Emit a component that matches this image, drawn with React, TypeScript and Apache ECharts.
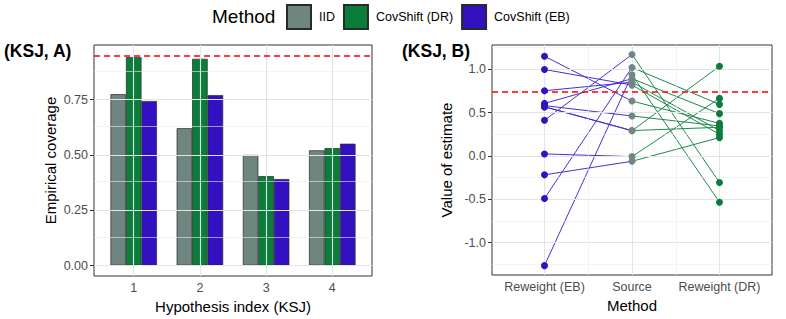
import React, { useEffect, useRef } from "react";
import * as echarts from "echarts";

// ---- Panel A: empirical coverage per hypothesis ----
const hypotheses = [1, 2, 3, 4];
const iidCoverage = [0.775, 0.621, 0.5, 0.521];
const drCoverage = [0.943, 0.935, 0.404, 0.531];
const ebCoverage = [0.744, 0.771, 0.391, 0.551];
const nominalCoverage = 0.95;
const coverageTicks = [0, 0.25, 0.5, 0.75];
const coverageMinor = [0.125, 0.375, 0.625, 0.875];

// ---- Panel B: estimates by method ----
const methods = ["Reweight (EB)", "Source", "Reweight (DR)"];
const ebEstimates = [0.41, -0.49, -1.264, 0.605, 0.751, 0.996, 1.149, 0.58, 0.565, 0.567, 0.023, -0.218];
const sourceEstimates = [1.169, 1.019, 0.935, 0.89, 0.85, 0.816, 0.632, 0.46, 0.29, 0.292, -0.008, -0.062];
const drEstimates = [-0.307, 0.594, -0.533, 0.487, 0.291, 0.249, 0.375, 0.345, 1.034, 0.33, 0.663, 0.211];
const targetEstimate = 0.744;
const estimateTicks = [-1, -0.5, 0, 0.5, 1];
const estimateMinor = [-1.25, -0.75, -0.25, 0.25, 0.75, 1.25];

const COLORS = { iid: "#6f8580", dr: "#0b7d3b", eb: "#3310c0" };
const LINE_BLUE = "#4a2fd2";
const LINE_GREEN = "#1f8a4c";
const GRID_MAJOR = "#dfe7e5";
const GRID_MINOR = "#e8eeec";
const FONT = "Liberation Sans, Arial, Helvetica, sans-serif";

export default function App() {
  const ref = useRef<HTMLDivElement>(null);
  useEffect(() => {
    if (!ref.current) return;
    const chart = echarts.init(ref.current, null, { renderer: "svg" });

    const gridLines = (xi: number, majorsY: number[], minorsY: number[], xs: { v: number; minor?: boolean }[]) => ({
      type: "line",
      xAxisIndex: xi,
      yAxisIndex: xi,
      data: [],
      z: 1,
      silent: true,
      markLine: {
        silent: true,
        symbol: ["none", "none"],
        label: { show: false },
        emphasis: { disabled: true },
        data: [
          ...minorsY.map((v) => ({ yAxis: v, lineStyle: { color: GRID_MINOR, width: 0.6, type: "solid" } })),
          ...majorsY.map((v) => ({ yAxis: v, lineStyle: { color: GRID_MAJOR, width: 1.1, type: "solid" } })),
          ...xs.map((o) => ({
            xAxis: o.v,
            lineStyle: { color: o.minor ? GRID_MINOR : GRID_MAJOR, width: o.minor ? 0.6 : 1.1, type: "solid" },
          })),
        ],
      },
    });

    const refLine = (xi: number, v: number) => ({
      type: "line",
      xAxisIndex: xi,
      yAxisIndex: xi,
      data: [],
      z: 10,
      silent: true,
      markLine: {
        silent: true,
        symbol: ["none", "none"],
        label: { show: false },
        data: [{ yAxis: v }],
        lineStyle: { color: "#ff0000", width: 1.5, type: [6, 4] },
      },
    });

    const barSeries = (name: string, vals: number[], color: string) => ({
      type: "bar",
      name,
      xAxisIndex: 0,
      yAxisIndex: 0,
      data: hypotheses.map((h, i) => [h, vals[i]]),
      barWidth: 15.5,
      barGap: "0%",
      z: 3,
      itemStyle: { color, borderColor: "#2a2a2a", borderWidth: 0.7 },
    });

    const segs: any[] = [];
    ebEstimates.forEach((v, i) => {
      segs.push({
        type: "line",
        xAxisIndex: 1,
        yAxisIndex: 1,
        data: [[1, v], [2, sourceEstimates[i]]],
        showSymbol: false,
        z: 3,
        silent: true,
        lineStyle: { color: LINE_BLUE, width: 1 },
      });
      segs.push({
        type: "line",
        xAxisIndex: 1,
        yAxisIndex: 1,
        data: [[2, sourceEstimates[i]], [3, drEstimates[i]]],
        showSymbol: false,
        z: 3,
        silent: true,
        lineStyle: { color: LINE_GREEN, width: 1 },
      });
    });

    const pts = (name: string, x: number, vals: number[], color: string) => ({
      type: "scatter",
      name,
      xAxisIndex: 1,
      yAxisIndex: 1,
      data: vals.map((v) => [x, v]),
      symbolSize: 7,
      z: 5,
      itemStyle: { color, opacity: 1 },
    });

    const axisLabelStyle = { color: "#4d4d4d", fontSize: 12.5, fontFamily: FONT };
    const nameStyle = { color: "#000", fontSize: 15, fontFamily: FONT };

    chart.setOption({
      animation: false,
      textStyle: { fontFamily: FONT },
      title: [
        { text: "(KSJ, A)", left: 4, top: 42, padding: 0, textStyle: { fontSize: 17.5, fontWeight: "bold", color: "#000", fontFamily: FONT } },
        { text: "(KSJ, B)", left: 402, top: 42, padding: 0, textStyle: { fontSize: 17.5, fontWeight: "bold", color: "#000", fontFamily: FONT } },
      ],
      legend: {
        data: ["IID", "CovShift (DR)", "CovShift (EB)"],
        left: 286,
        top: 4,
        padding: 0,
        itemWidth: 24,
        itemHeight: 24,
        itemGap: 8,
        selectedMode: false,
        icon: "rect",
        textStyle: { fontSize: 12.5, color: "#000", fontFamily: FONT, padding: [0, 0, 0, 3] },
      },
      graphic: [
        { type: "text", left: 212, top: 7, style: { text: "Method", fontSize: 19, fill: "#000", fontFamily: FONT } },
      ],
      grid: [
        { left: 94, top: 45, width: 278, height: 231, show: true, borderColor: "#333", borderWidth: 1, backgroundColor: "#fff" },
        { left: 492, top: 45, width: 280, height: 230, show: true, borderColor: "#333", borderWidth: 1, backgroundColor: "#fff" },
      ],
      xAxis: [
        {
          type: "value",
          gridIndex: 0,
          min: 0.4,
          max: 4.6,
          splitLine: { show: false },
          axisLine: { show: false },
          axisTick: { show: true, length: 4, lineStyle: { color: "#333" }, customValues: hypotheses },
          axisLabel: { ...axisLabelStyle, customValues: hypotheses, formatter: (v: number) => String(v), margin: 5 },
          name: "Hypothesis index (KSJ)",
          nameLocation: "middle",
          nameGap: 22,
          nameTextStyle: nameStyle,
        },
        {
          type: "value",
          gridIndex: 1,
          min: 0.4,
          max: 3.6,
          splitLine: { show: false },
          axisLine: { show: false },
          axisTick: { show: true, length: 4, lineStyle: { color: "#333" }, customValues: [1, 2, 3] },
          axisLabel: { ...axisLabelStyle, customValues: [1, 2, 3], formatter: (v: number) => methods[Math.round(v) - 1] ?? "", margin: 5 },
          name: "Method",
          nameLocation: "middle",
          nameGap: 22,
          nameTextStyle: nameStyle,
        },
      ],
      yAxis: [
        {
          type: "value",
          gridIndex: 0,
          min: -0.0475,
          max: 0.9975,
          splitLine: { show: false },
          axisLine: { show: false },
          axisTick: { show: true, length: 4, lineStyle: { color: "#333" }, customValues: coverageTicks },
          axisLabel: { ...axisLabelStyle, customValues: coverageTicks, formatter: (v: number) => v.toFixed(2), margin: 6 },
          name: "Empirical coverage",
          nameLocation: "middle",
          nameGap: 36.5,
          nameTextStyle: nameStyle,
        },
        {
          type: "value",
          gridIndex: 1,
          min: -1.372,
          max: 1.278,
          splitLine: { show: false },
          axisLine: { show: false },
          axisTick: { show: true, length: 4, lineStyle: { color: "#333" }, customValues: estimateTicks },
          axisLabel: { ...axisLabelStyle, customValues: estimateTicks, formatter: (v: number) => v.toFixed(1), margin: 6 },
          name: "Value of estimate",
          nameLocation: "middle",
          nameGap: 38,
          nameTextStyle: nameStyle,
        },
      ],
      series: [
        gridLines(0, coverageTicks, coverageMinor, hypotheses.map((h) => ({ v: h }))),
        gridLines(1, estimateTicks, estimateMinor, [
          { v: 1 }, { v: 1.5, minor: true }, { v: 2 }, { v: 2.5, minor: true }, { v: 3 },
        ]),
        barSeries("IID", iidCoverage, COLORS.iid),
        barSeries("CovShift (DR)", drCoverage, COLORS.dr),
        barSeries("CovShift (EB)", ebCoverage, COLORS.eb),
        refLine(0, nominalCoverage),
        ...segs,
        pts("Reweight (EB) estimates", 1, ebEstimates, COLORS.eb),
        pts("Source estimates", 2, sourceEstimates, "#728783"),
        pts("Reweight (DR) estimates", 3, drEstimates, COLORS.dr),
        refLine(1, targetEstimate),
      ],
    });
    return () => chart.dispose();
  }, []);
  return <div ref={ref} style={{ width: 786, height: 319, position: "absolute", left: 0, top: 0, background: "#fff" }} />;
}
